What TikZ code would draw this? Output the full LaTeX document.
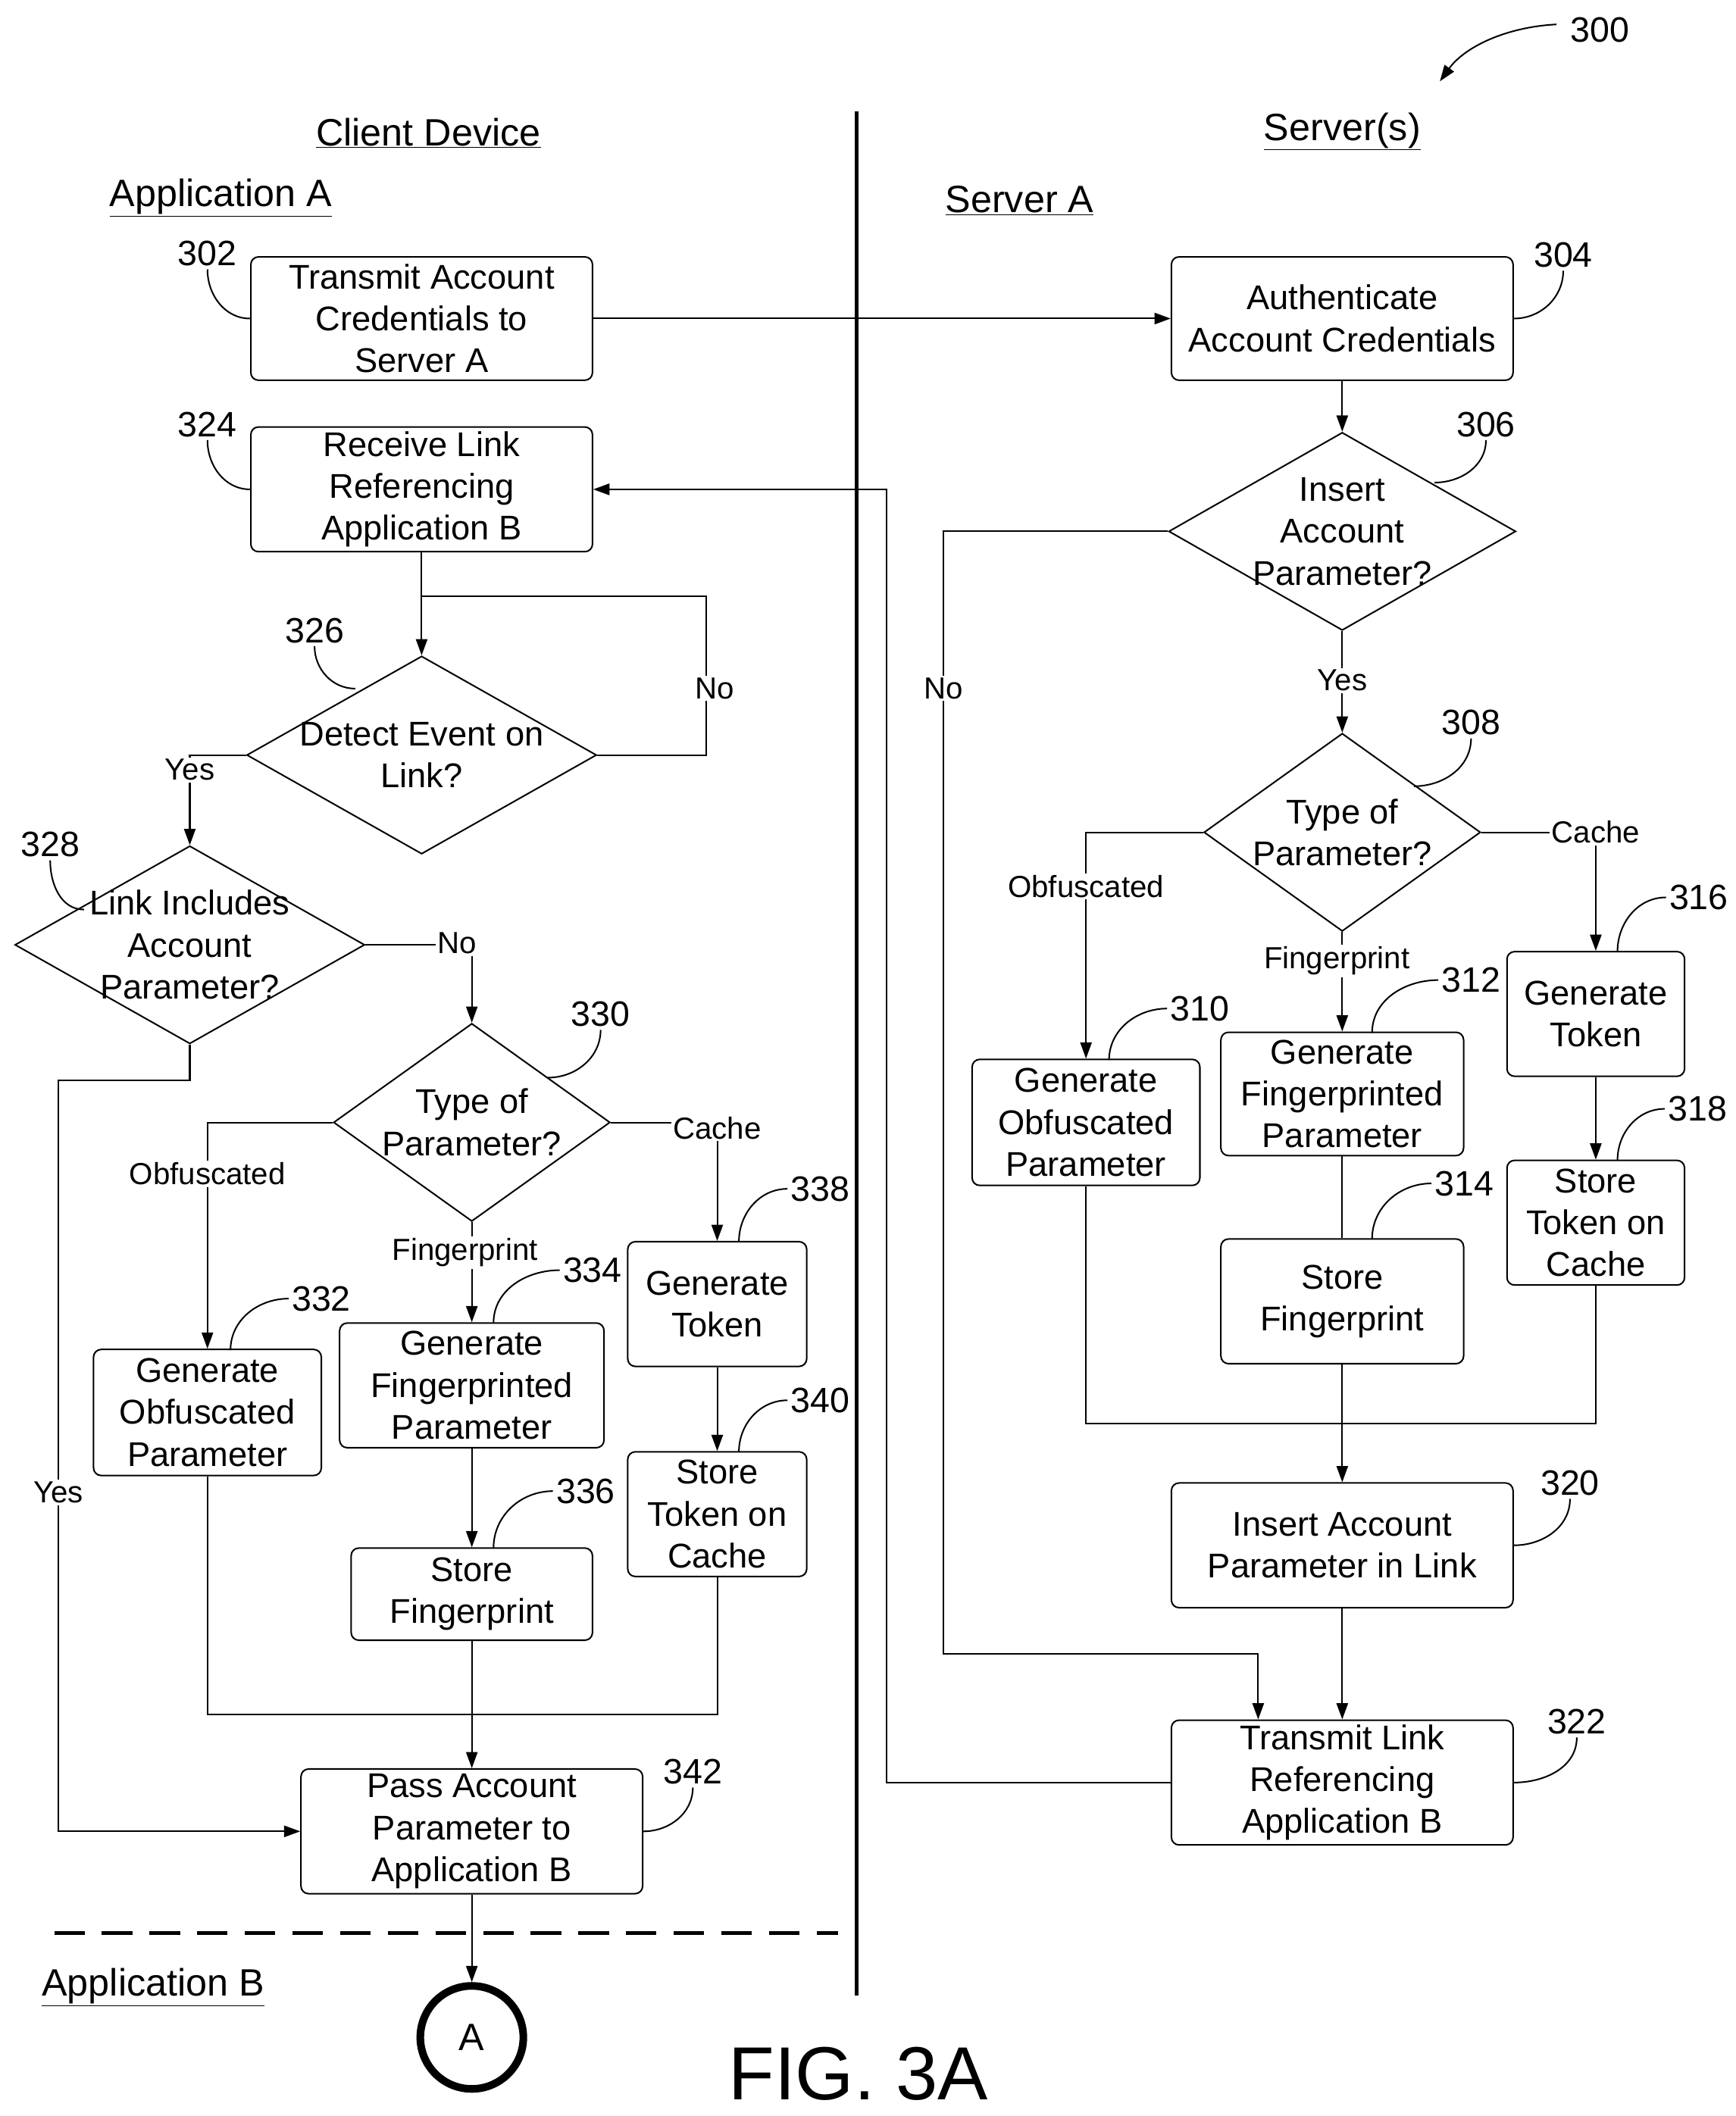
\documentclass[tikz,border=0pt]{standalone}
\usepackage{fontspec}
\setmainfont{Liberation Sans}
\usetikzlibrary{shapes.geometric,arrows.meta}
\begin{document}
\begin{tikzpicture}[x=0.05cm,y=-0.05cm,
  every node/.style={font=\fontsize{36}{44}\selectfont},
  box/.style={draw,line width=1.6pt,rounded corners=8pt,align=center,inner sep=0pt},
  dia/.style={draw,line width=1.6pt,shape=diamond,inner sep=0pt},
  dt/.style={align=center,inner sep=0pt},
  ln/.style={line width=1.6pt},
  ar/.style={line width=1.6pt,-{Triangle[length=17pt,width=12pt]}},
  lab/.style={font=\fontsize{32}{36}\selectfont,fill=white,inner sep=2pt},
  num/.style={font=\fontsize{37}{40}\selectfont},
  hd/.style={font=\fontsize{40}{44}\selectfont}]
\useasboundingbox (0,0) rectangle (1280,1561);
% headers
\node[hd] (h1) at (316,98) {\underline{Client Device}};
\node[hd] (h2) at (990,97) {\underline{Server(s)}};
\node[hd] (h3) at (163,146) {\underline{Application A}};
\node[hd] (h4) at (752,148) {\underline{Server A}};
\node[hd] (h5) at (113,1466) {\underline{Application B}};
\node[font=\fontsize{79}{84}\selectfont] (fig) at (633,1530) {FIG. 3A};
\node[num] (n300) at (1180,22) {300};
\coordinate (c300) at (1062,60);
\draw[ar] (1148,18) .. controls (1110,20) and (1080,35) .. (c300);
\draw[line width=4pt] (632,82) -- (632,1472);
\draw[line width=4pt,dash pattern=on 32pt off 18pt] (40,1426) -- (618,1426);
% boxes
\node[box,minimum width=252*0.05cm,minimum height=91*0.05cm] (b302) at (311,235) {Transmit Account\\Credentials to\\Server A};
\node[box,minimum width=252*0.05cm,minimum height=91*0.05cm] (b304) at (990,235) {Authenticate\\Account Credentials};
\node[box,minimum width=252*0.05cm,minimum height=92*0.05cm] (b324) at (311,361) {Receive Link\\Referencing\\Application B};
\node[box,minimum width=168*0.05cm,minimum height=93*0.05cm] (b310) at (801,828) {Generate\\Obfuscated\\Parameter};
\node[box,minimum width=179*0.05cm,minimum height=91*0.05cm] (b312) at (990,807) {Generate\\Fingerprinted\\Parameter};
\node[box,minimum width=179*0.05cm,minimum height=92*0.05cm] (b314) at (990,960) {Store\\Fingerprint};
\node[box,minimum width=131*0.05cm,minimum height=92*0.05cm] (b316) at (1177,748) {Generate\\Token};
\node[box,minimum width=131*0.05cm,minimum height=92*0.05cm] (b318) at (1177,902) {Store\\Token on\\Cache};
\node[box,minimum width=252*0.05cm,minimum height=92*0.05cm] (b320) at (990,1140) {Insert Account\\Parameter in Link};
\node[box,minimum width=252*0.05cm,minimum height=92*0.05cm] (b322) at (990,1315) {Transmit Link\\Referencing\\Application B};
\node[box,minimum width=168*0.05cm,minimum height=93*0.05cm] (b332) at (153,1042) {Generate\\Obfuscated\\Parameter};
\node[box,minimum width=195*0.05cm,minimum height=92*0.05cm] (b334) at (348,1022) {Generate\\Fingerprinted\\Parameter};
\node[box,minimum width=132*0.05cm,minimum height=92*0.05cm] (b338) at (529,962) {Generate\\Token};
\node[box,minimum width=132*0.05cm,minimum height=92*0.05cm] (b340) at (529,1117) {Store\\Token on\\Cache};
\node[box,minimum width=178*0.05cm,minimum height=68*0.05cm] (b336) at (348,1176) {Store\\Fingerprint};
\node[box,minimum width=252*0.05cm,minimum height=92*0.05cm] (b342) at (348,1351) {Pass Account\\Parameter to\\Application B};
\node[draw,circle,line width=8pt,minimum size=76*0.05cm,inner sep=0pt,font=\fontsize{40}{44}\selectfont] (cA) at (348,1503) {A};
% diamonds
\node[dia,minimum width=256*0.05cm,minimum height=146*0.05cm] (d306) at (990,392) {};
\node[dt] (t306) at (990,392) {Insert\\Account\\Parameter?};
\node[dia,minimum width=258*0.05cm,minimum height=146*0.05cm] (d326) at (311,557) {};
\node[dt] (t326) at (311,557) {Detect Event on\\Link?};
\node[dia,minimum width=258*0.05cm,minimum height=146*0.05cm] (d328) at (140,697) {};
\node[dt] (t328) at (140,697) {Link Includes\\Account\\Parameter?};
\node[dia,minimum width=204*0.05cm,minimum height=146*0.05cm] (d330) at (348,828) {};
\node[dt] (t330) at (348,828) {Type of\\Parameter?};
\node[dia,minimum width=204*0.05cm,minimum height=146*0.05cm] (d308) at (990,614) {};
\node[dt] (t308) at (990,614) {Type of\\Parameter?};
% server connectors
\draw[ar] (b302) -- (b304);
\draw[ar] (b304) -- (d306);
\draw[ar] (d306) -- (d308);
\node[lab] (lyes1) at (990,502) {Yes};
\coordinate (k1) at (696,1220);
\draw[ar] (d306.west) -| (k1) -| ([xshift=-62*0.05cm]b322.north);
\node[lab] (lno1) at (696,508) {No};
\draw[ar] (d308.west) -| (b310.north);
\node[lab] (lob1) at (801,654) {Obfuscated};
\draw[ar] (d308.east) -| (b316.north);
\node[lab] (lca1) at (1177,614) {Cache};
\draw[ar] (d308.south) -- (b312.north);
\node[lab] (lfp1) at (986,709) {Fingerprint};
\draw[ar] (b316) -- (b318);
\draw[ln] (b312) -- (b314);
\draw[ar] (b314) -- (b320);
\coordinate (k2) at (801,1050);
\draw[ln] (b310.south) -- (k2) -| (b318.south);
\draw[ar] (b320) -- (b322);
\coordinate (k3) at (654,1315);
\draw[ar] (b322.west) -- (k3) |- (b324.east);
% client connectors
\draw[ar] (b324) -- (d326);
\coordinate (k4) at (521,440);
\draw[ln] (d326.east) -| (k4) -- (311,440);
\node[lab] (lno2) at (527,508) {No};
\draw[ar] (d326.west) -| (d328.north);
\node[lab] (lyes2) at (140,568) {Yes};
\draw[ar] (d328.east) -| (d330.north);
\node[lab] (lno3) at (337,696) {No};
\coordinate (k5) at (140,797);
\coordinate (k6) at (43,797);
\draw[ar] (d328.south) -- (k5) -- (k6) |- (b342.west);
\node[lab] (lyes) at (43,1101) {Yes};
\draw[ar] (d330.west) -| (b332.north);
\node[lab] (lob2) at (153,866) {Obfuscated};
\draw[ar] (d330.east) -| (b338.north);
\node[lab] (lca2) at (529,832) {Cache};
\draw[ar] (d330.south) -- (b334.north);
\node[lab] (lfp2) at (343,924) {Fingerprint};
\draw[ar] (b334) -- (b336);
\draw[ar] (b338) -- (b340);
\draw[ar] (b336) -- (b342);
\coordinate (k7) at (153,1265);
\draw[ln] (b332.south) -- (k7) -| (b340.south);
\draw[ar] (b342) -- (cA);
% reference numbers
\foreach \n/\x/\y in {302/153/187,304/1153/188,324/153/313,306/1096/313,326/232/465,308/1085/533,328/37/623,330/443/748,310/885/744,312/1085/723,316/1253/662,314/1080/873,318/1252/818,320/1158/1094,322/1163/1270,332/237/958,334/437/937,338/605/877,340/605/1033,336/432/1100,342/511/1307}
  \node[num] (r\n) at (\x,\y) {\n};
% leaders
\draw[ln] (r302.south) to[out=-90,in=180] (b302.west);
\draw[ln] (r324.south) to[out=-90,in=180] (b324.west);
\draw[ln] (r328.south) to[out=-90,in=180] (62,671);
\draw[ln] (r326.south) to[out=-90,in=180] (262,508);
\draw[ln] (r304.south) to[out=-90,in=0] (b304.east);
\draw[ln] (r320.south) to[out=-90,in=0] (b320.east);
\draw[ln] (r322.south) to[out=-90,in=0] (b322.east);
\draw[ln] (r342.south) to[out=-90,in=0] (b342.east);
\draw[ln] (r306.south) to[out=-90,in=0] (1058,356);
\draw[ln] (r308.south) to[out=-90,in=0] (1043,580);
\draw[ln] (r330.south) to[out=-90,in=0] (404,795);
\draw[ln] (r310.west) to[out=180,in=90] (818,782);
\draw[ln] (r312.west) to[out=180,in=90] (1012,762);
\draw[ln] (r316.west) to[out=180,in=90] (1193,702);
\draw[ln] (r314.west) to[out=180,in=90] (1012,914);
\draw[ln] (r318.west) to[out=180,in=90] (1193,856);
\draw[ln] (r332.west) to[out=180,in=90] (170,996);
\draw[ln] (r334.west) to[out=180,in=90] (364,976);
\draw[ln] (r338.west) to[out=180,in=90] (545,916);
\draw[ln] (r340.west) to[out=180,in=90] (545,1071);
\draw[ln] (r336.west) to[out=180,in=90] (364,1142);
\end{tikzpicture}
\end{document}
